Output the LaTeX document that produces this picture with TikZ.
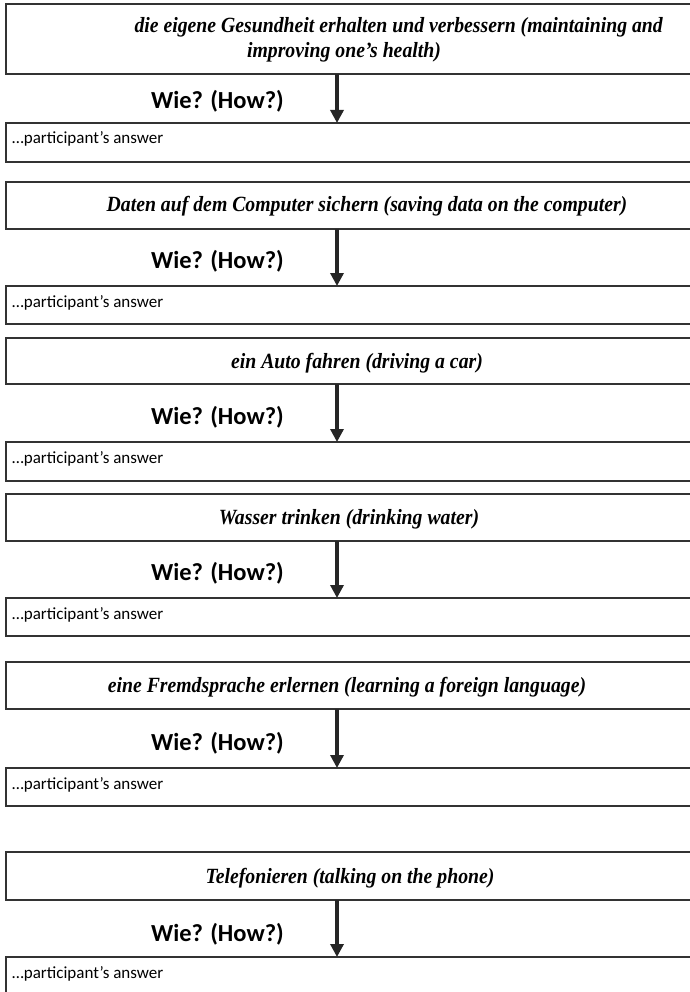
\documentclass[tikz,border=0pt]{standalone}
\usepackage{fontspec}
\setmainfont{Liberation Serif}
\newfontfamily\qfont[FakeStretch=0.91]{Liberation Serif}
\newfontfamily\calib{Carlito}
\usetikzlibrary{arrows.meta}
\begin{document}
\begin{tikzpicture}[x=1pt,y=-1pt,
  qbox/.style={draw=black!80, line width=1.1pt, anchor=north west, minimum width=740pt, inner sep=0pt, outer sep=0pt},
  qtext/.style={font=\qfont\fontsize{21.7}{25}\selectfont\bfseries\itshape, inner sep=0pt, anchor=base},
  howlbl/.style={font=\calib\fontsize{24.5}{28}\selectfont\bfseries, inner sep=0pt, anchor=base east},
  anstext/.style={font=\calib\fontsize{17}{20}\selectfont, inner sep=0pt, anchor=base west},
  arr/.style={line width=3.4pt, draw=black!85, -{Triangle[width=13pt,length=13pt]}}
]
\useasboundingbox (0,0) rectangle (689,992);
\coordinate (ax) at (337,0);

% section 1
\node[qbox, minimum height=70pt] (q1) at (6,4) {};
\node[qtext, anchor=base east] (t1a) at (663,33) {die eigene Gesundheit erhalten und verbessern (maintaining and};
\node[qtext] (t1b) at (344,58) {improving one’s health)};
\node[qbox, minimum height=39pt] (a1) at (6,123) {};
\node[anstext] (n1) at (12,144) {…participant’s answer};
\draw[arr] (q1.south -| ax) -- (a1.north -| ax);
\node[howlbl] (h1) at (284,109) {Wie? (How?)};

% section 2
\node[qbox, minimum height=47pt] (q2) at (6,182) {};
\node[qtext] (t2) at (367,212) {Daten auf dem Computer sichern (saving data on the computer)};
\node[qbox, minimum height=38pt] (a2) at (6,286) {};
\node[anstext] (n2) at (12,307) {…participant’s answer};
\draw[arr] (q2.south -| ax) -- (a2.north -| ax);
\node[howlbl] (h2) at (284,268) {Wie? (How?)};

% section 3
\node[qbox, minimum height=46pt] (q3) at (6,338) {};
\node[qtext] (t3) at (357,368) {ein Auto fahren (driving a car)};
\node[qbox, minimum height=39pt] (a3) at (6,442) {};
\node[anstext] (n3) at (12,463) {…participant’s answer};
\draw[arr] (q3.south -| ax) -- (a3.north -| ax);
\node[howlbl] (h3) at (284,424) {Wie? (How?)};

% section 4
\node[qbox, minimum height=47pt] (q4) at (6,494) {};
\node[qtext] (t4) at (349,524) {Wasser trinken (drinking water)};
\node[qbox, minimum height=38pt] (a4) at (6,598) {};
\node[anstext] (n4) at (12,619) {…participant’s answer};
\draw[arr] (q4.south -| ax) -- (a4.north -| ax);
\node[howlbl] (h4) at (284,580) {Wie? (How?)};

% section 5
\node[qbox, minimum height=47pt] (q5) at (6,662) {};
\node[qtext] (t5) at (347,692) {eine Fremdsprache erlernen (learning a foreign language)};
\node[qbox, minimum height=38pt] (a5) at (6,768) {};
\node[anstext] (n5) at (12,789) {…participant’s answer};
\draw[arr] (q5.south -| ax) -- (a5.north -| ax);
\node[howlbl] (h5) at (284,750) {Wie? (How?)};

% section 6
\node[qbox, minimum height=48pt] (q6) at (6,852) {};
\node[qtext] (t6) at (350,883) {Telefonieren (talking on the phone)};
\node[qbox, minimum height=50pt] (a6) at (6,957) {};
\node[anstext] (n6) at (12,978) {…participant’s answer};
\draw[arr] (q6.south -| ax) -- (a6.north -| ax);
\node[howlbl] (h6) at (284,941) {Wie? (How?)};
\end{tikzpicture}
\end{document}
